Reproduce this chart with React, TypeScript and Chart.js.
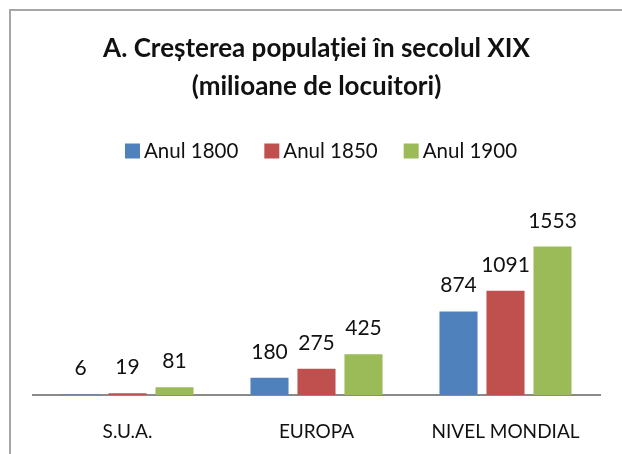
import React, { useEffect, useRef } from "react";
import { Chart, registerables } from "chart.js";

Chart.register(...registerables);

const titleLines = ["A. Creșterea populației în secolul XIX", "(milioane de locuitori)"];
const categories = ["S.U.A.", "EUROPA", "NIVEL MONDIAL"];
const seriesNames = ["Anul 1800", "Anul 1850", "Anul 1900"];
const values1800 = [6, 180, 874];
const values1850 = [19, 275, 1091];
const values1900 = [81, 425, 1553];
const seriesColors = ["#4F81BD", "#C0504D", "#9BBB59"];
const yMax = 1800;

const FONT = "Lato, 'Open Sans', sans-serif";

const dataLabelPlugin = {
  id: "dataLabels",
  afterDatasetsDraw(chart: any) {
    const ctx = chart.ctx;
    ctx.save();
    ctx.font = `21px ${FONT}`;
    ctx.fillStyle = "#111";
    ctx.textAlign = "center";
    ctx.textBaseline = "alphabetic";
    chart.data.datasets.forEach((ds: any, di: number) => {
      const meta = chart.getDatasetMeta(di);
      meta.data.forEach((el: any, i: number) => {
        ctx.fillText(String(ds.data[i]), el.x, el.y - 19);
      });
    });
    ctx.restore();
  },
};

const customLegendPlugin = {
  id: "customLegend",
  afterDraw(chart: any) {
    const ctx = chart.ctx;
    ctx.save();
    ctx.font = `20.5px ${FONT}`;
    ctx.textBaseline = "middle";
    ctx.textAlign = "left";
    const box = 15;
    const gapText = 4;
    const gapItem = 26;
    const items = chart.data.datasets.map((ds: any) => ({
      label: ds.label,
      color: ds.backgroundColor,
      w: ctx.measureText(ds.label).width,
    }));
    const total =
      items.reduce((s: number, it: any) => s + box + gapText + it.w, 0) +
      gapItem * (items.length - 1);
    let x = 321 - total / 2;
    const cy = 151;
    items.forEach((it: any) => {
      ctx.fillStyle = it.color;
      ctx.fillRect(x, cy - box / 2, box, box);
      x += box + gapText;
      ctx.fillStyle = "#111";
      ctx.fillText(it.label, x, cy);
      x += it.w + gapItem;
    });
    ctx.restore();
  },
};

export default function App() {
  const canvasRef = useRef<HTMLCanvasElement | null>(null);

  useEffect(() => {
    document.body.style.margin = "0";
    const canvas = canvasRef.current;
    if (!canvas) return;
    const series = [values1800, values1850, values1900];
    const chart = new Chart(canvas, {
      type: "bar",
      data: {
        labels: categories,
        datasets: series.map((vals, i) => ({
          label: seriesNames[i],
          data: vals,
          backgroundColor: seriesColors[i],
          borderWidth: 0,
          categoryPercentage: 0.746,
          barPercentage: 0.81,
        })),
      },
      options: {
        animation: false,
        responsive: false,
        maintainAspectRatio: false,
        layout: { padding: { left: 33, right: 22, top: 0, bottom: 0 } },
        plugins: {
          legend: { display: false },
          tooltip: { enabled: false },
          title: {
            display: true,
            text: titleLines,
            color: "#111",
            font: { family: FONT, size: 26, weight: "bold", lineHeight: 1.46 },
            padding: { top: 30, bottom: 117 },
          },
        },
        scales: {
          x: {
            z: 1,
            grid: { display: false, drawTicks: false },
            border: { display: true, color: "#8a8a8a", width: 2 },
            ticks: {
              color: "#111",
              font: { family: FONT, size: 19 },
              padding: 25,
              maxRotation: 0,
              autoSkip: false,
            },
            afterFit: (scale: any) => {
              scale.height = 59;
            },
          },
          y: {
            display: false,
            min: 0,
            max: yMax,
          },
        },
      },
      plugins: [dataLabelPlugin, customLegendPlugin],
    });
    return () => chart.destroy();
  }, []);

  return (
    <div style={{ position: "absolute", left: 0, top: 0, width: 622, height: 454, overflow: "hidden", background: "#fff" }}>
      <div
        style={{
          position: "absolute",
          left: 9,
          top: 9,
          width: 700,
          height: 600,
          borderLeft: "2px solid #a6a6a6",
          borderTop: "2px solid #a6a6a6",
        }}
      />
      <canvas ref={canvasRef} width={622} height={454} style={{ position: "absolute", left: 0, top: 0 }} />
    </div>
  );
}
